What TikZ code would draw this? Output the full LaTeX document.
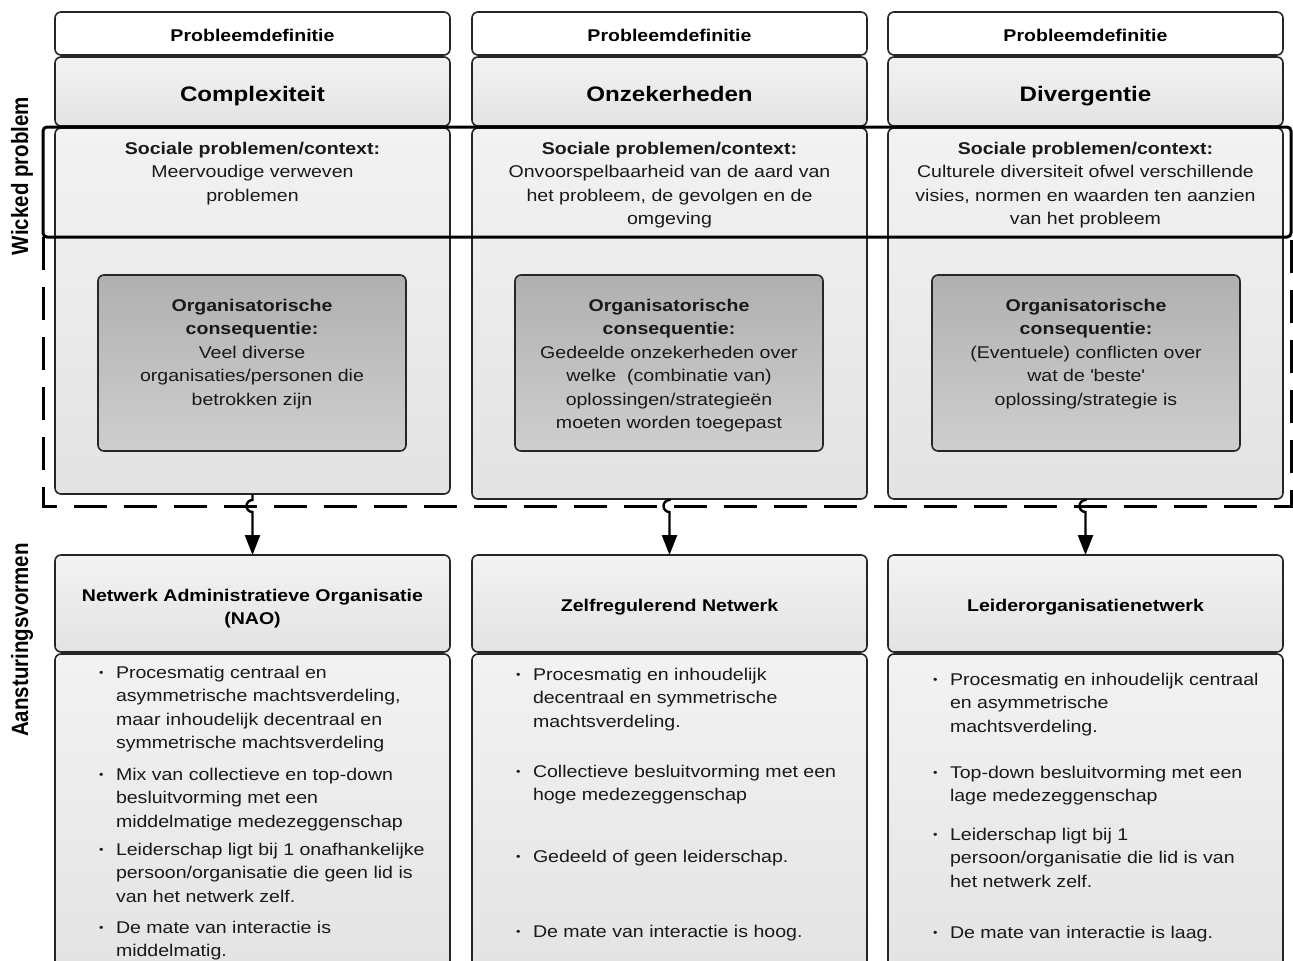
\documentclass[tikz,border=0pt]{standalone}
\usepackage{fontspec}
\setmainfont{Liberation Sans}[FakeStretch=1.15]
\newfontfamily\plainfont{Liberation Sans}
\usetikzlibrary{arrows.meta,shadings}
\newcommand{\bul}{\llap{\raisebox{2pt}{\fontsize{11}{11}\selectfont •}\hspace{12.5pt}}}
\begin{document}
\begin{tikzpicture}[x=1pt,y=1pt,
  boxbase/.style={draw=black!85, line width=1.6pt, rounded corners=6pt, inner sep=0pt, outer sep=0pt, minimum width=395pt},
  wbox/.style={boxbase, fill=white},
  gbox/.style={boxbase, top color=black!5, bottom color=black!11},
  obox/.style={boxbase, minimum width=308pt, minimum height=176pt, top color=black!31, bottom color=black!19},
  txt/.style={inner sep=0pt, outer sep=0pt, font=\fontsize{17}{23.5}\selectfont, text=black!90},
  btxt/.style={txt, font=\fontsize{17}{23.5}\selectfont\bfseries, text=black},
  ttl/.style={inner sep=0pt, outer sep=0pt, font=\fontsize{21}{25}\selectfont\bfseries, text=black},
  side/.style={inner sep=0pt, outer sep=0pt, rotate=90, font=\plainfont\fontsize{20.5}{24}\selectfont\bfseries},
  conn/.style={line width=2.4pt, draw=black, -{Triangle[length=20pt,width=15pt]}},
  frame/.style={line width=3pt, draw=black, rounded corners=4pt},
  dframe/.style={line width=3pt, draw=black, dash pattern=on 33pt off 17pt}
]
\path[use as bounding box] (0,0) rectangle (1293,-961);
\clip (0,0) rectangle (1293,-961);

% ---------- top row boxes
\node[wbox, minimum height=43pt] (pd1) at (252.5,-33.5) {};
\node[wbox, minimum height=43pt] (pd2) at (669.5,-33.5) {};
\node[wbox, minimum height=43pt] (pd3) at (1085.5,-33.5) {};
\node[btxt, anchor=base] (pdt1) at (252.5,-41) {Probleemdefinitie};
\node[btxt, anchor=base] (pdt2) at (669.5,-41) {Probleemdefinitie};
\node[btxt, anchor=base] (pdt3) at (1085.5,-41) {Probleemdefinitie};

\node[gbox, minimum height=69pt] (t1) at (252.5,-91.5) {};
\node[gbox, minimum height=69pt] (t2) at (669.5,-91.5) {};
\node[gbox, minimum height=69pt] (t3) at (1085.5,-91.5) {};
\node[ttl, anchor=base] (tt1) at (252.5,-101) {Complexiteit};
\node[ttl, anchor=base] (tt2) at (669.5,-101) {Onzekerheden};
\node[ttl, anchor=base] (tt3) at (1085.5,-101) {Divergentie};

\node[gbox, minimum height=366pt] (b1) at (252.5,-311) {};
\node[gbox, minimum height=371pt] (b2) at (669.5,-313.5) {};
\node[gbox, minimum height=371pt] (b3) at (1085.5,-313.5) {};

\node[txt, anchor=north, align=center] (s1) at (252.5,-137.55)
  {\strut{\bfseries Sociale problemen/context:}\\Meervoudige verweven\\problemen};
\node[txt, anchor=north, align=center] (s2) at (669.5,-137.55)
  {\strut{\bfseries Sociale problemen/context:}\\Onvoorspelbaarheid van de aard van\\het probleem, de gevolgen en de\\omgeving};
\node[txt, anchor=north, align=center] (s3) at (1085.5,-137.55)
  {\strut{\bfseries Sociale problemen/context:}\\Culturele diversiteit ofwel verschillende\\visies, normen en waarden ten aanzien\\van het probleem};

\node[obox] (o1) at (252,-363) {};
\node[obox] (o2) at (669,-363) {};
\node[obox] (o3) at (1086,-363) {};
\node[txt, anchor=north, align=center] (ot1) at (252,-294.55)
  {\strut{\bfseries Organisatorische}\\{\bfseries consequentie:}\\Veel diverse\\organisaties/personen die\\betrokken zijn};
\node[txt, anchor=north, align=center] (ot2) at (669,-294.55)
  {\strut{\bfseries Organisatorische}\\{\bfseries consequentie:}\\Gedeelde onzekerheden over\\welke~ (combinatie van)\\oplossingen/strategieën\\moeten worden toegepast};
\node[txt, anchor=north, align=center] (ot3) at (1086,-294.55)
  {\strut{\bfseries Organisatorische}\\{\bfseries consequentie:}\\(Eventuele) conflicten over\\wat de \textquotesingle beste\textquotesingle\\oplossing/strategie is};

% ---------- frames
\draw[frame] (43,-127) rectangle (1291,-237);
\draw[dframe] (43,-237) -- (43,-506) -- (1291,-506) -- (1291,-237);

% ---------- bottom row boxes
\node[gbox, minimum height=97pt] (h1) at (252.5,-603.5) {};
\node[gbox, minimum height=97pt] (h2) at (669.5,-603.5) {};
\node[gbox, minimum height=97pt] (h3) at (1085.5,-603.5) {};
\node[btxt, anchor=north, align=center] (ht1) at (252.5,-584.55)
  {\strut Netwerk Administratieve Organisatie\\(NAO)};
\node[btxt, anchor=base] (ht2) at (669.5,-611) {Zelfregulerend Netwerk};
\node[btxt, anchor=base] (ht3) at (1085.5,-611) {Leiderorganisatienetwerk};

\node[gbox, minimum height=331pt] (d1) at (252.5,-819.5) {};
\node[gbox, minimum height=331pt] (d2) at (669.5,-819.5) {};
\node[gbox, minimum height=331pt] (d3) at (1085.5,-819.5) {};

% column 1 bullets
\node[txt, anchor=north west, align=left] (i11) at (116,-661.55)
  {\strut\bul Procesmatig centraal en\\asymmetrische machtsverdeling,\\maar inhoudelijk decentraal en\\symmetrische machtsverdeling};
\node[txt, anchor=north west, align=left] (i12) at (116,-763.55)
  {\strut\bul Mix van collectieve en top-down\\besluitvorming met een\\middelmatige medezeggenschap};
\node[txt, anchor=north west, align=left] (i13) at (116,-838.55)
  {\strut\bul Leiderschap ligt bij 1 onafhankelijke\\persoon/organisatie die geen lid is\\van het netwerk zelf.};
\node[txt, anchor=north west, align=left] (i14) at (116,-916.55)
  {\strut\bul De mate van interactie is\\middelmatig.};

% column 2 bullets
\node[txt, anchor=north west, align=left] (i21) at (533,-663.55)
  {\strut\bul Procesmatig en inhoudelijk\\decentraal en symmetrische\\machtsverdeling.};
\node[txt, anchor=north west, align=left] (i22) at (533,-760.55)
  {\strut\bul Collectieve besluitvorming met een\\hoge medezeggenschap};
\node[txt, anchor=north west, align=left] (i23) at (533,-845.55)
  {\strut\bul Gedeeld of geen leiderschap.};
\node[txt, anchor=north west, align=left] (i24) at (533,-920.55)
  {\strut\bul De mate van interactie is hoog.};

% column 3 bullets
\node[txt, anchor=north west, align=left] (i31) at (950,-668.55)
  {\strut\bul Procesmatig en inhoudelijk centraal\\en asymmetrische\\machtsverdeling.};
\node[txt, anchor=north west, align=left] (i32) at (950,-761.55)
  {\strut\bul Top-down besluitvorming met een\\lage medezeggenschap};
\node[txt, anchor=north west, align=left] (i33) at (950,-823.55)
  {\strut\bul Leiderschap ligt bij 1\\persoon/organisatie die lid is van\\het netwerk zelf.};
\node[txt, anchor=north west, align=left] (i34) at (950,-921.55)
  {\strut\bul De mate van interactie is laag.};

% ---------- connectors with line hops over the dashed line
\coordinate (j1) at (252.5,-500);
\coordinate (j2) at (669.5,-500);
\coordinate (j3) at (1085.5,-500);
\draw[conn] (b1.south) -- (j1) arc[start angle=90, end angle=270, radius=6pt] -- (h1.north);
\draw[conn] (b2.south) -- (j2) arc[start angle=90, end angle=270, radius=6pt] -- (h2.north);
\draw[conn] (b3.south) -- (j3) arc[start angle=90, end angle=270, radius=6pt] -- (h3.north);

% ---------- side labels
\node[side] (wp) at (22,-176) {\scalebox{1}[1.15]{Wicked problem}};
\node[side] (av) at (22,-640) {\scalebox{1}[1.15]{Aansturingsvormen}};
\end{tikzpicture}
\end{document}
